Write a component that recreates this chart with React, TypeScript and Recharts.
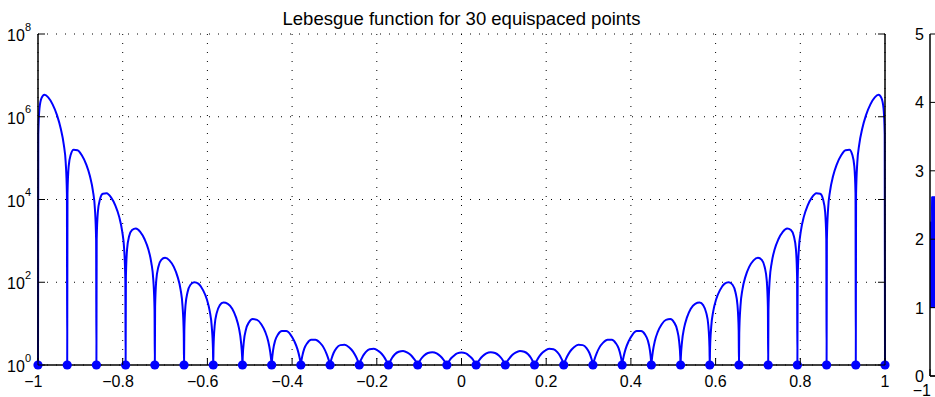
import { Area, CartesianGrid, ComposedChart, Line, Scatter, XAxis, YAxis } from "recharts"

const BLUE = "#0000ff"
const FONT = '"Liberation Sans", Arial, Helvetica, sans-serif'

// 30 equispaced interpolation nodes on [-1, 1]
const nodes = [
  -1, -0.931034, -0.862069, -0.793103, -0.724138, -0.655172, -0.586207, -0.517241, -0.448276, -0.37931,
  -0.310345, -0.241379, -0.172414, -0.103448, -0.034483, 0.034483, 0.103448, 0.172414, 0.241379, 0.310345,
  0.37931, 0.448276, 0.517241, 0.586207, 0.655172, 0.724138, 0.793103, 0.862069, 0.931034, 1,
]

// where the curve is sampled inside each gap, as a fraction of the node spacing
const gapFractions = [0.01, 0.05, 0.12, 0.22, 0.35, 0.5, 0.65, 0.78, 0.88, 0.95, 0.99]

// log10 of the Lebesgue function at those samples, one row per gap (left to right)
const gapLog10 = [
  [5.57, 6.2, 6.45, 6.53, 6.47, 6.3, 6.04, 5.71, 5.34, 4.88, 4.13],
  [4.15, 4.8, 5.08, 5.2, 5.19, 5.07, 4.85, 4.56, 4.21, 3.76, 3.02],
  [3.04, 3.7, 4.0, 4.14, 4.15, 4.05, 3.85, 3.58, 3.24, 2.8, 2.06],
  [2.13, 2.8, 3.11, 3.26, 3.3, 3.22, 3.04, 2.79, 2.47, 2.04, 1.32],
  [1.4, 2.05, 2.37, 2.54, 2.59, 2.53, 2.37, 2.13, 1.83, 1.41, 0.76],
  [0.83, 1.44, 1.76, 1.94, 2.0, 1.96, 1.81, 1.59, 1.3, 0.92, 0.38],
  [0.43, 0.96, 1.26, 1.44, 1.51, 1.48, 1.36, 1.15, 0.89, 0.56, 0.18],
  [0.2, 0.58, 0.86, 1.03, 1.11, 1.09, 0.98, 0.8, 0.58, 0.32, 0.08],
  [0.1, 0.36, 0.59, 0.74, 0.82, 0.82, 0.73, 0.57, 0.39, 0.2, 0.05],
  [0.06, 0.22, 0.4, 0.53, 0.61, 0.61, 0.54, 0.42, 0.27, 0.13, 0.03],
  [0.04, 0.15, 0.29, 0.41, 0.48, 0.49, 0.43, 0.33, 0.21, 0.1, 0.02],
  [0.02, 0.11, 0.21, 0.31, 0.38, 0.39, 0.34, 0.26, 0.16, 0.07, 0.02],
  [0.02, 0.08, 0.17, 0.26, 0.32, 0.34, 0.3, 0.23, 0.14, 0.07, 0.01],
  [0.02, 0.07, 0.15, 0.23, 0.29, 0.31, 0.28, 0.21, 0.13, 0.06, 0.01],
  [0.01, 0.06, 0.14, 0.21, 0.28, 0.3, 0.28, 0.21, 0.14, 0.06, 0.01],
  [0.01, 0.06, 0.13, 0.21, 0.28, 0.31, 0.29, 0.23, 0.15, 0.07, 0.02],
  [0.01, 0.07, 0.14, 0.23, 0.3, 0.34, 0.32, 0.26, 0.17, 0.08, 0.02],
  [0.02, 0.07, 0.16, 0.26, 0.34, 0.39, 0.38, 0.31, 0.21, 0.11, 0.02],
  [0.02, 0.1, 0.21, 0.33, 0.43, 0.49, 0.48, 0.41, 0.29, 0.15, 0.04],
  [0.03, 0.13, 0.27, 0.42, 0.54, 0.61, 0.61, 0.53, 0.4, 0.22, 0.06],
  [0.05, 0.2, 0.39, 0.57, 0.73, 0.82, 0.82, 0.74, 0.59, 0.36, 0.1],
  [0.08, 0.32, 0.58, 0.8, 0.98, 1.09, 1.11, 1.03, 0.86, 0.58, 0.2],
  [0.18, 0.56, 0.89, 1.15, 1.36, 1.48, 1.51, 1.44, 1.26, 0.96, 0.43],
  [0.38, 0.92, 1.3, 1.59, 1.81, 1.96, 2.0, 1.94, 1.76, 1.44, 0.83],
  [0.76, 1.41, 1.83, 2.13, 2.37, 2.53, 2.59, 2.54, 2.37, 2.05, 1.4],
  [1.32, 2.04, 2.47, 2.79, 3.04, 3.22, 3.3, 3.26, 3.11, 2.8, 2.13],
  [2.06, 2.8, 3.24, 3.58, 3.85, 4.05, 4.15, 4.14, 4.0, 3.7, 3.04],
  [3.02, 3.76, 4.21, 4.56, 4.85, 5.07, 5.19, 5.2, 5.08, 4.8, 4.15],
  [4.13, 4.88, 5.34, 5.71, 6.04, 6.3, 6.47, 6.53, 6.45, 6.2, 5.57],
]

const xTicks = [-1, -0.8, -0.6, -0.4, -0.2, 0, 0.2, 0.4, 0.6, 0.8, 1]
const xTickLabels = ["−1", "−0.8", "−0.6", "−0.4", "−0.2", "0", "0.2", "0.4", "0.6", "0.8", "1"]
const yTicks = [1, 1e2, 1e4, 1e6, 1e8]
const yTickPowers = ["0", "2", "4", "6", "8"]

// second panel, only its left edge is inside the picture
const panel2X = [-1, -0.997, -0.996, -0.98]
const panel2Low = [1, 1, 1, 1]
const panel2High = [2.25, 2.25, 2.62, 2.62]
const panel2YTicks = [0, 1, 2, 3, 4, 5]
const panel2XTicks = [-1]
const panel2XLabels = ["−1"]

const curve: { x: number; y: number }[] = []
nodes.forEach((xn, i) => {
  curve.push({ x: xn, y: 1 })
  if (i < nodes.length - 1) {
    const h = nodes[i + 1] - xn
    gapFractions.forEach((f, j) => curve.push({ x: xn + f * h, y: Math.pow(10, gapLog10[i][j]) }))
  }
})
const nodeDots = nodes.map((x) => ({ x, y: 1 }))

const panel2Data = panel2X.map((x, i) => ({ x, low: panel2Low[i], band: [panel2Low[i], panel2High[i]] }))

const axisLine = { stroke: "#000", strokeWidth: 1.5 }

function BottomTick({ x, y, payload }: any) {
  const i = xTicks.indexOf(payload.value)
  const shift = payload.value < 0 ? -4.7 : 0
  return (
    <g>
      <line x1={x} y1={y} x2={x} y2={y - 7} stroke="#000" />
      <text x={x + shift} y={y + 22} textAnchor="middle" fontSize={16} fill="#000" fontFamily={FONT}>
        {xTickLabels[i]}
      </text>
    </g>
  )
}

function TopTick({ x, y }: any) {
  return <line x1={x} y1={y} x2={x} y2={y + 7} stroke="#000" />
}

function LeftTick({ x, y, payload }: any) {
  const i = yTicks.indexOf(payload.value)
  return (
    <g>
      <line x1={x} y1={y} x2={x + 7} y2={y} stroke="#000" />
      <text x={x - 7} y={y + 7} textAnchor="end" fontSize={16} fill="#000" fontFamily={FONT}>
        10
        <tspan dy={-10.5} fontSize={11}>
          {yTickPowers[i]}
        </tspan>
      </text>
    </g>
  )
}

function RightTick({ x, y }: any) {
  return <line x1={x} y1={y} x2={x - 7} y2={y} stroke="#000" />
}

function Panel2YTick({ x, y, payload }: any) {
  return (
    <g>
      <line x1={x} y1={y} x2={x + 7} y2={y} stroke="#000" />
      <text x={x - 6} y={y + 6} textAnchor="end" fontSize={16} fill="#000" fontFamily={FONT}>
        {payload.value}
      </text>
    </g>
  )
}

function Panel2XTick({ x, y, payload }: any) {
  const i = panel2XTicks.indexOf(payload.value)
  return (
    <g>
      <line x1={x} y1={y} x2={x} y2={y - 7} stroke="#000" />
      <text x={x + 1} y={y + 20} textAnchor="end" fontSize={16} fill="#000" fontFamily={FONT}>
        {panel2XLabels[i]}
      </text>
    </g>
  )
}

export default function App() {
  return (
    <div
      style={{
        position: "fixed",
        left: 0,
        top: 0,
        width: 935,
        height: 397,
        overflow: "hidden",
        background: "#fff",
        fontFamily: FONT,
      }}
    >
      <div style={{ position: "absolute", left: 0, top: 0 }}>
        <ComposedChart width={935} height={397} margin={{ top: 34, right: 0, bottom: 0, left: 0 }}>
          <CartesianGrid stroke="#000" strokeWidth={1} strokeDasharray="1 8" />
          <XAxis
            dataKey="x"
            type="number"
            domain={[-1, 1]}
            ticks={xTicks}
            interval={0}
            height={32}
            tickSize={0}
            tickMargin={0}
            tickLine={false}
            axisLine={axisLine}
            tick={(p: any) => <BottomTick {...p} />}
          />
          <XAxis
            xAxisId="top"
            orientation="top"
            dataKey="x"
            type="number"
            domain={[-1, 1]}
            ticks={xTicks}
            interval={0}
            height={0}
            tickSize={0}
            tickMargin={0}
            tickLine={false}
            axisLine={axisLine}
            tick={(p: any) => <TopTick {...p} />}
          />
          <YAxis
            type="number"
            scale="log"
            domain={[1, 1e8]}
            ticks={yTicks}
            interval={0}
            width={38}
            tickSize={0}
            tickMargin={0}
            tickLine={false}
            axisLine={axisLine}
            tick={(p: any) => <LeftTick {...p} />}
          />
          <YAxis
            yAxisId="right"
            orientation="right"
            type="number"
            scale="log"
            domain={[1, 1e8]}
            ticks={yTicks}
            interval={0}
            width={50}
            tickSize={0}
            tickMargin={0}
            tickLine={false}
            axisLine={axisLine}
            tick={(p: any) => <RightTick {...p} />}
          />
          <Line
            data={nodeDots}
            dataKey="y"
            xAxisId="top"
            yAxisId="right"
            stroke="none"
            dot={false}
            activeDot={false}
            isAnimationActive={false}
          />
          <Line
            data={curve}
            dataKey="y"
            type="monotone"
            stroke={BLUE}
            strokeWidth={2}
            dot={false}
            activeDot={false}
            isAnimationActive={false}
          />
          <Scatter
            data={nodeDots}
            dataKey="y"
            fill={BLUE}
            isAnimationActive={false}
            shape={(p: any) => <circle cx={p.cx} cy={p.cy} r={4.6} fill={BLUE} />}
          />
        </ComposedChart>
      </div>

      <div style={{ position: "absolute", left: 890, top: 0 }}>
        <ComposedChart width={937} height={397} data={panel2Data} margin={{ top: 34, right: 50, bottom: 0, left: 0 }}>
          <XAxis
            dataKey="x"
            type="number"
            domain={[-1, 1]}
            ticks={panel2XTicks}
            interval={0}
            height={21}
            tickSize={0}
            tickMargin={0}
            tickLine={false}
            axisLine={axisLine}
            tick={(p: any) => <Panel2XTick {...p} />}
          />
          <XAxis
            xAxisId="top"
            orientation="top"
            dataKey="x"
            type="number"
            domain={[-1, 1]}
            height={0}
            tick={false}
            tickLine={false}
            axisLine={axisLine}
          />
          <YAxis
            type="number"
            domain={[0, 5]}
            ticks={panel2YTicks}
            interval={0}
            width={40}
            tickSize={0}
            tickMargin={0}
            tickLine={false}
            axisLine={axisLine}
            tick={(p: any) => <Panel2YTick {...p} />}
          />
          <Area
            dataKey="band"
            type="linear"
            stroke={BLUE}
            strokeWidth={1}
            fill={BLUE}
            fillOpacity={1}
            isAnimationActive={false}
          />
          <Line xAxisId="top" dataKey="low" stroke="none" dot={false} activeDot={false} isAnimationActive={false} />
        </ComposedChart>
      </div>

      <svg width={935} height={40} style={{ position: "absolute", left: 0, top: 0 }}>
        <text x={461.5} y={25} textAnchor="middle" fontSize={18.5} fill="#000" fontFamily={FONT}>
          Lebesgue function for 30 equispaced points
        </text>
      </svg>
    </div>
  )
}
